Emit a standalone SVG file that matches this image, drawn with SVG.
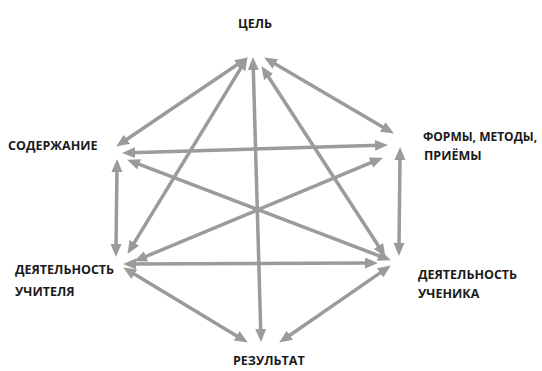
<svg xmlns="http://www.w3.org/2000/svg" width="542" height="371" viewBox="0 0 542 371">
<defs>
<marker id="ah" markerUnits="userSpaceOnUse" markerWidth="14" markerHeight="12" refX="4" refY="5.5" orient="auto-start-reverse">
<path d="M0,0 L13,5.5 L0,11 z" fill="#9b9b9b"/>
</marker>
<style>
.c line{stroke:#9b9b9b;stroke-width:3.5;marker-start:url(#ah);marker-end:url(#ah)}
text{font-family:"Open Sans","Liberation Sans",sans-serif;font-weight:bold;font-size:12.5px;fill:#1a1a1a}
</style>
</defs>
<rect width="542" height="371" fill="#fff"/>
<g id="connectors" class="c">
<line x1="240.4" y1="62.5" x2="123.6" y2="141.5"/>
<line x1="271.9" y1="62" x2="386.1" y2="129"/>
<line x1="242.8" y1="64.8" x2="132.2" y2="246.2"/>
<line x1="266.4" y1="73.7" x2="380.6" y2="249.3"/>
<line x1="253.2" y1="66" x2="260.8" y2="333"/>
<line x1="131" y1="152.8" x2="379" y2="145.2"/>
<line x1="117" y1="168" x2="116" y2="248"/>
<line x1="135.5" y1="162.9" x2="382.5" y2="257.1"/>
<line x1="374.6" y1="161.1" x2="142.4" y2="257.9"/>
<line x1="400" y1="156" x2="399" y2="247"/>
<line x1="132" y1="264" x2="369" y2="263"/>
<line x1="130.9" y1="272.1" x2="240.1" y2="337.9"/>
<line x1="383.4" y1="270.6" x2="286.6" y2="337.5"/>
</g>
<g id="cel"><text x="238" y="28">ЦЕЛЬ</text></g>
<g id="soderzhanie"><text x="8" y="150">СОДЕРЖАНИЕ</text></g>
<g id="formy"><text x="423" y="141" style="font-size:12px">ФОРМЫ, МЕТОДЫ,</text><text x="424" y="160">ПРИЁМЫ</text></g>
<g id="uchitel"><text x="15" y="274">ДЕЯТЕЛЬНОСТЬ</text><text x="15" y="296">УЧИТЕЛЯ</text></g>
<g id="uchenik"><text x="418" y="279">ДЕЯТЕЛЬНОСТЬ</text><text x="418" y="298">УЧЕНИКА</text></g>
<g id="rezultat"><text x="233" y="365">РЕЗУЛЬТАТ</text></g>
</svg>
